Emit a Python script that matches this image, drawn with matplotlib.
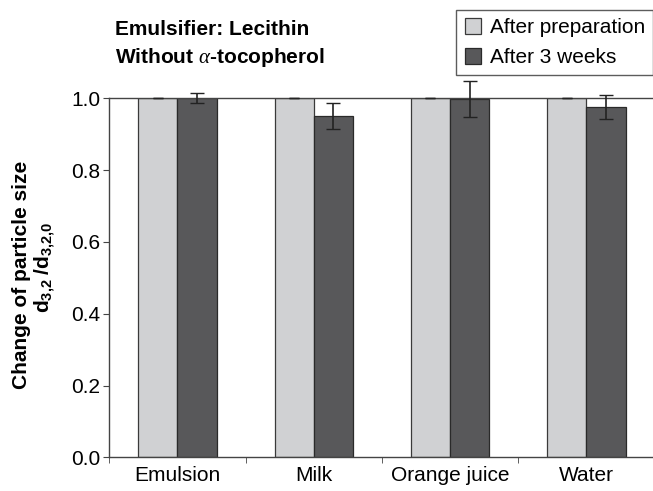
import matplotlib.pyplot as plt
import numpy as np

plt.rcParams['font.family'] = ['Liberation Sans', 'DejaVu Sans']
plt.rcParams['mathtext.fontset'] = 'custom'
plt.rcParams['mathtext.rm'] = 'Liberation Sans'
plt.rcParams['mathtext.it'] = 'Liberation Serif:italic'
plt.rcParams['mathtext.bf'] = 'Liberation Sans:bold'

# data
categories = ['Emulsion', 'Milk', 'Orange juice', 'Water']
after_prep = [1.0, 1.0, 1.0, 1.0]
after_prep_err = [0.0, 0.0, 0.0, 0.0]
after_3w = [1.0, 0.95, 0.997, 0.975]
after_3w_err = [0.014, 0.036, 0.05, 0.034]

fig = plt.figure(figsize=(6.53, 4.91), dpi=100)
ax = fig.add_axes([0.1674, 0.0686, 0.835, 0.7312])

x = np.arange(len(categories))
w = 0.288
ax.bar(x - w/2, after_prep, w, color='#d0d1d3', edgecolor='#3a3a3a',
       linewidth=0.9, label='After preparation', zorder=2)
ax.bar(x + w/2, after_3w, w, color='#58585a', edgecolor='#2a2a2a',
       linewidth=0.9, label='After 3 weeks', zorder=2)

# error bars (allowed to poke out above the top line)
eb1 = ax.errorbar(x - w/2, after_prep, yerr=after_prep_err, fmt='none', ecolor='#222222',
                  elinewidth=1.0, capsize=3.5, capthick=1.0, zorder=3)
eb2 = ax.errorbar(x + w/2, after_3w, yerr=after_3w_err, fmt='none', ecolor='#222222',
                  elinewidth=1.2, capsize=5, capthick=1.0, zorder=3)
for eb in [eb1, eb2]:
    for part in list(eb.lines[1]) + list(eb.lines[2]):
        part.set_clip_on(False)

ax.set_xlim(-0.5, 3.5)
ax.set_ylim(0, 1.0)
ax.set_yticks([0, 0.2, 0.4, 0.6, 0.8, 1.0])
ax.set_yticklabels(['0.0', '0.2', '0.4', '0.6', '0.8', '1.0'], fontsize=15)
ax.set_xticks(x)
ax.set_xticklabels(categories, fontsize=15)
ax.tick_params(axis='x', which='major', length=0, pad=6)
ax.set_xticks([-0.5, 0.5, 1.5, 2.5], minor=True)
ax.tick_params(axis='x', which='minor', length=4.5, direction='out', color='#444444')
ax.tick_params(axis='y', length=4.5, direction='out', color='#444444', pad=2)

ax.spines['right'].set_visible(False)
for s in ['left', 'bottom', 'top']:
    ax.spines[s].set_color('#444444')
    ax.spines[s].set_linewidth(1.0)

fig.text(0.033, 0.44, 'Change of particle size', rotation=90, fontsize=15,
         fontweight='bold', ha='center', va='center')
fig.text(0.069, 0.456, r'$\mathbf{d_{3{,}2}\ /d_{3{,}2{,}0}}$', rotation=90,
         fontsize=15, ha='center', va='center')

fig.text(0.176, 0.939, 'Emulsifier: Lecithin', fontsize=15, fontweight='bold',
         ha='left', va='center')
fig.text(0.176, 0.882, r'Without $\alpha$-tocopherol', fontsize=15, fontweight='bold',
         ha='left', va='center')

leg = fig.legend(loc='upper left', bbox_to_anchor=(0.699, 0.98), fontsize=15,
                 frameon=True, fancybox=False, edgecolor='#333333',
                 handlelength=0.8, handleheight=0.8, handletextpad=0.4,
                 borderpad=0.4, labelspacing=0.5, borderaxespad=0)
leg.get_frame().set_linewidth(1.0)

fig.savefig('out.png', dpi=100)
